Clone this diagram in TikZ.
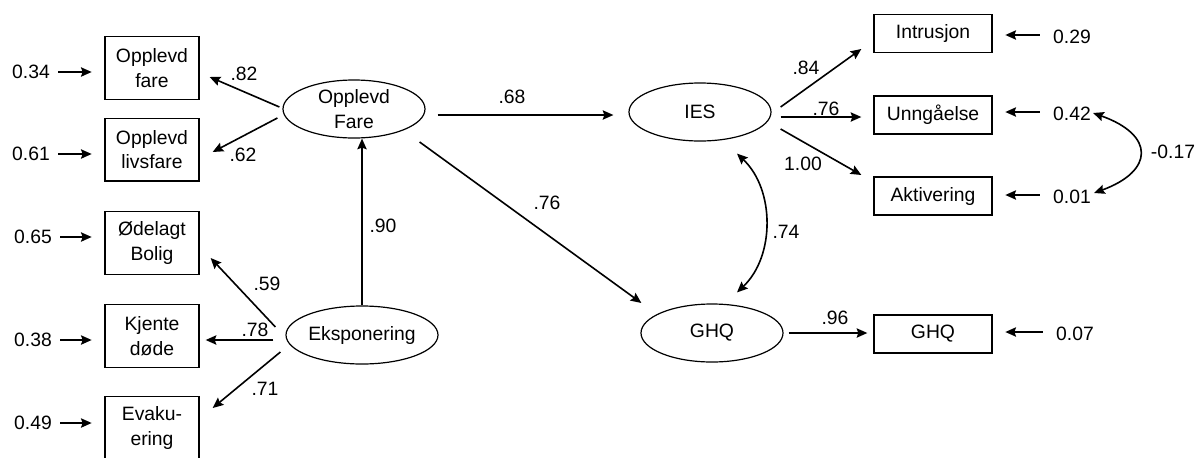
\documentclass[tikz,border=0pt]{standalone}
\usepackage{fontspec}
\setmainfont{Liberation Sans}
\usetikzlibrary{shapes.geometric,arrows.meta}
\begin{document}
\begin{tikzpicture}[x=0.75pt,y=-0.75pt,
  font=\fontsize{14.5}{18.5}\selectfont,
  box/.style={draw, line width=1pt, minimum width=70.5pt, minimum height=47pt, inner sep=0pt, align=center},
  rbox/.style={draw, line width=1pt, minimum width=88.5pt, minimum height=28.5pt, inner sep=0pt},
  lat/.style={draw, ellipse, line width=0.9pt, minimum width=106.5pt, minimum height=43.5pt, inner sep=0pt, align=center},
  num/.style={inner sep=0pt},
  tip/.tip={Stealth[length=8pt,width=7pt,inset=1.2pt]},
  arr/.style={line width=1.2pt, -tip},
  darr/.style={line width=1.2pt, tip-tip},
]
\useasboundingbox (0,0) rectangle (1198,457);

% observed boxes, left
\node[box] (ofare) at (152,68) {Opplevd\\fare};
\node[box] (olivs) at (152,149.5) {Opplevd\\livsfare};
\node[box] (odel)  at (152,243) {Ødelagt\\Bolig};
\node[box] (kjente) at (152,336) {Kjente\\døde};
\node[box] (evak)  at (152,428) {Evaku-\\ering};

% latent variables
\node[lat] (OF)  at (354,109) {Opplevd\\Fare};
\node[lat] (EKS) at (362,335) {Eksponering};
\node[lat] (IES) at (700,112) {IES};
\node[lat] (GHQe) at (712,333) {GHQ};

% observed boxes, right
\node[rbox] (intr) at (933,33.5) {Intrusjon};
\node[rbox] (unng) at (933,115) {Unngåelse};
\node[rbox] (akt)  at (933,196) {Aktivering};
\node[rbox] (ghqb) at (933,334) {GHQ};

% residuals left
\node[num] (r34) at (31,72) {0.34};
\node[num] (r61) at (31,154) {0.61};
\node[num] (r65) at (33,237) {0.65};
\node[num] (r38) at (33,340) {0.38};
\node[num] (r49) at (33,423) {0.49};
\foreach \r/\b in {r34/ofare,r61/olivs,r65/odel,r38/kjente,r49/evak}{
  \draw[arr, shorten <=6pt, shorten >=9.5pt] (\r.east) -- (\r.east -| \b.west);
}

% residuals right
\node[num] (r29) at (1072,37) {0.29};
\node[num] (r42) at (1072,114) {0.42};
\node[num] (r01) at (1072,197) {0.01};
\node[num] (r07) at (1075,334) {0.07};
\foreach \r/\b in {r29/intr,r42/unng,r01/akt,r07/ghqb}{
  \draw[arr, shorten <=10pt, shorten >=9.5pt] ([yshift=1.5pt]\r.west) -- ([yshift=1.5pt]\r.west -| \b.east);
}

% loadings of Opplevd Fare
\draw[arr] ([shift={(-3,-2)}]OF.west) -- ([shift={(10,9)}]ofare.east);
\node[num] (l82) at (244,74) {.82};
\draw[arr] ([shift={(-5,9)}]OF.west) -- ([shift={(13,2.5)}]olivs.east);
\node[num] (l62) at (243,155) {.62};

% Eksponering
\draw[arr] (EKS.north) -- (EKS.north |- OF.south);
\node[num] (l90) at (383,226) {.90};
\draw[arr] ([shift={(-10,-8)}]EKS.west) -- ([shift={(11,15)}]odel.east);
\node[num] (l59) at (267,284) {.59};
\draw[arr] ([shift={(-12,5)}]EKS.west) -- ([shift={(6,4)}]kjente.east);
\node[num] (l78) at (255,330) {.78};
\draw[arr] ([shift={(-5,17)}]EKS.west) -- ([shift={(13,-20)}]evak.east);
\node[num] (l71) at (265,389) {.71};

% structural paths
\draw[arr] ([shift={(12,6)}]OF.east) -- ([shift={(-15,3)}]IES.west);
\node[num] (l68) at (512,97) {.68};
\draw[arr] ([shift={(-6,33)}]OF.east) -- ([shift={(1,-30)}]GHQe.west);
\node[num] (l76a) at (547,203) {.76};
\draw[darr] ([shift={(37,12)}]IES.south) .. controls +(38,36) and +(38,-36) .. ([shift={(25,-11)}]GHQe.north);
\node[num] (l74) at (786,232) {.74};

% IES loadings
\draw[arr] ([shift={(9,-5)}]IES.east) -- ([shift={(-12,15.5)}]intr.west);
\node[num] (l84) at (806,68) {.84};
\draw[arr] ([shift={(9,5)}]IES.east) -- ([shift={(-12,2)}]unng.west);
\node[num] (l76b) at (826,109) {.76};
\draw[arr] ([shift={(9,17)}]IES.east) -- ([shift={(-12,-21)}]akt.west);
\node[num] (l100) at (803,164) {1.00};

% GHQ loading
\draw[arr] ([shift={(5,0)}]GHQe.east) -- ([shift={(-6,-1)}]ghqb.west);
\node[num] (l96) at (835,318) {.96};

% residual covariance
\draw[darr] ([shift={(2,-1)}]r42.east) .. controls +(62,22) and +(60,-22) .. ([shift={(3,-4)}]r01.east);
\node[num] (l17) at (1173,152) {-0.17};
\end{tikzpicture}
\end{document}
